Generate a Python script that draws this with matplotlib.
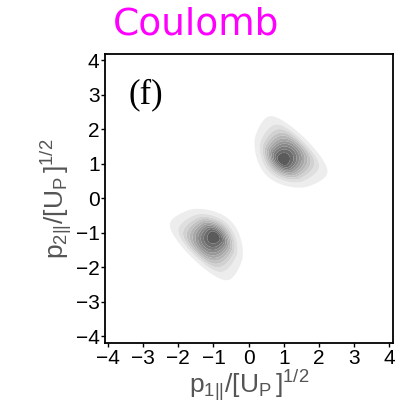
import numpy as np
import matplotlib.pyplot as plt
import matplotlib as mpl

# two momentum lobes, described along the diagonal (u) and across it (v)
lobe_dir = [1, -1]            # +1: upper-right lobe, -1: lower-left lobe
lobe_peak = [1.46, 1.46]      # radial position of the maximum
lobe_in = [0.25, 0.25]        # fall-off towards the origin
lobe_out = [0.55, 0.55]       # fall-off away from the origin
lobe_edge = [2.22, 2.22]      # outer cut-off
lobe_soft = [0.08, 0.08]      # softness of the cut-off
lobe_shift = [-0.10, -0.10]   # sideways offset of the lobe centre
lobe_w0 = [0.34, 0.34]        # angular spread: half-width = w0 + w1*u
lobe_w1 = [0.40, 0.40]

ticks = [-4, -3, -2, -1, 0, 1, 2, 3, 4]

mpl.rcParams['font.family'] = 'Liberation Sans'
mpl.rcParams['mathtext.fontset'] = 'custom'
mpl.rcParams['mathtext.rm'] = 'Liberation Sans'
mpl.rcParams['mathtext.it'] = 'Liberation Sans'

gx = np.linspace(-4.3, 4.3, 600)
X, Y = np.meshgrid(gx, gx)
Z = np.zeros_like(X)
for d, up, si, so, ue, ws, vs, w0, w1 in zip(lobe_dir, lobe_peak, lobe_in, lobe_out, lobe_edge,
                                              lobe_soft, lobe_shift, lobe_w0, lobe_w1):
    u = d * (X + Y) / np.sqrt(2)
    v = d * (X - Y) / np.sqrt(2)
    sig = np.where(u < up, si, so)
    radial = np.exp(-(u - up)**2 / (2 * sig**2)) / (1 + np.exp((u - ue) / ws))
    sv = np.clip(w0 + w1 * u, 0.05, None) / 2.2
    Z += radial * np.exp(-(v - vs)**2 / (2 * sv**2))
Z /= Z.max()

fig = plt.figure(figsize=(4.01, 4.04), dpi=100)
ax = fig.add_axes([0.262, 0.151, 0.718, 0.715])

levels = np.linspace(0.04, 1.0, 12)
shades = [str(g) for g in np.linspace(0.92, 0.32, len(levels) - 1) ** 0.9]
ax.contourf(X, Y, Z, levels=levels, colors=shades, antialiased=True)

ax.set_xlim(-4.08, 4.1)
ax.set_ylim(-4.2, 4.18)
ax.set_xticks(ticks)
ax.set_yticks(ticks)
ax.tick_params(direction='out', length=3, width=1, labelsize=15, pad=1)
for s in ax.spines.values():
    s.set_linewidth(1.3)

ax.set_xlabel(r'$\mathrm{p_{1||}/[U_P\,]^{1/2}}$', fontsize=19, color='#555555', labelpad=0)
ax.set_ylabel(r'$\mathrm{p_{2||}/[U_P\,]^{1/2}}$', fontsize=19, color='#555555', labelpad=1)

ax.text(0.08, 0.915, '(f)', transform=ax.transAxes, fontsize=25,
        family='Liberation Serif', va='top', ha='left')

fig.text(0.489, 0.94, 'Coulomb', color='#ff00ff', fontsize=27,
         family='DejaVu Sans', ha='center', va='center')

fig.savefig('out.png', dpi=100)
